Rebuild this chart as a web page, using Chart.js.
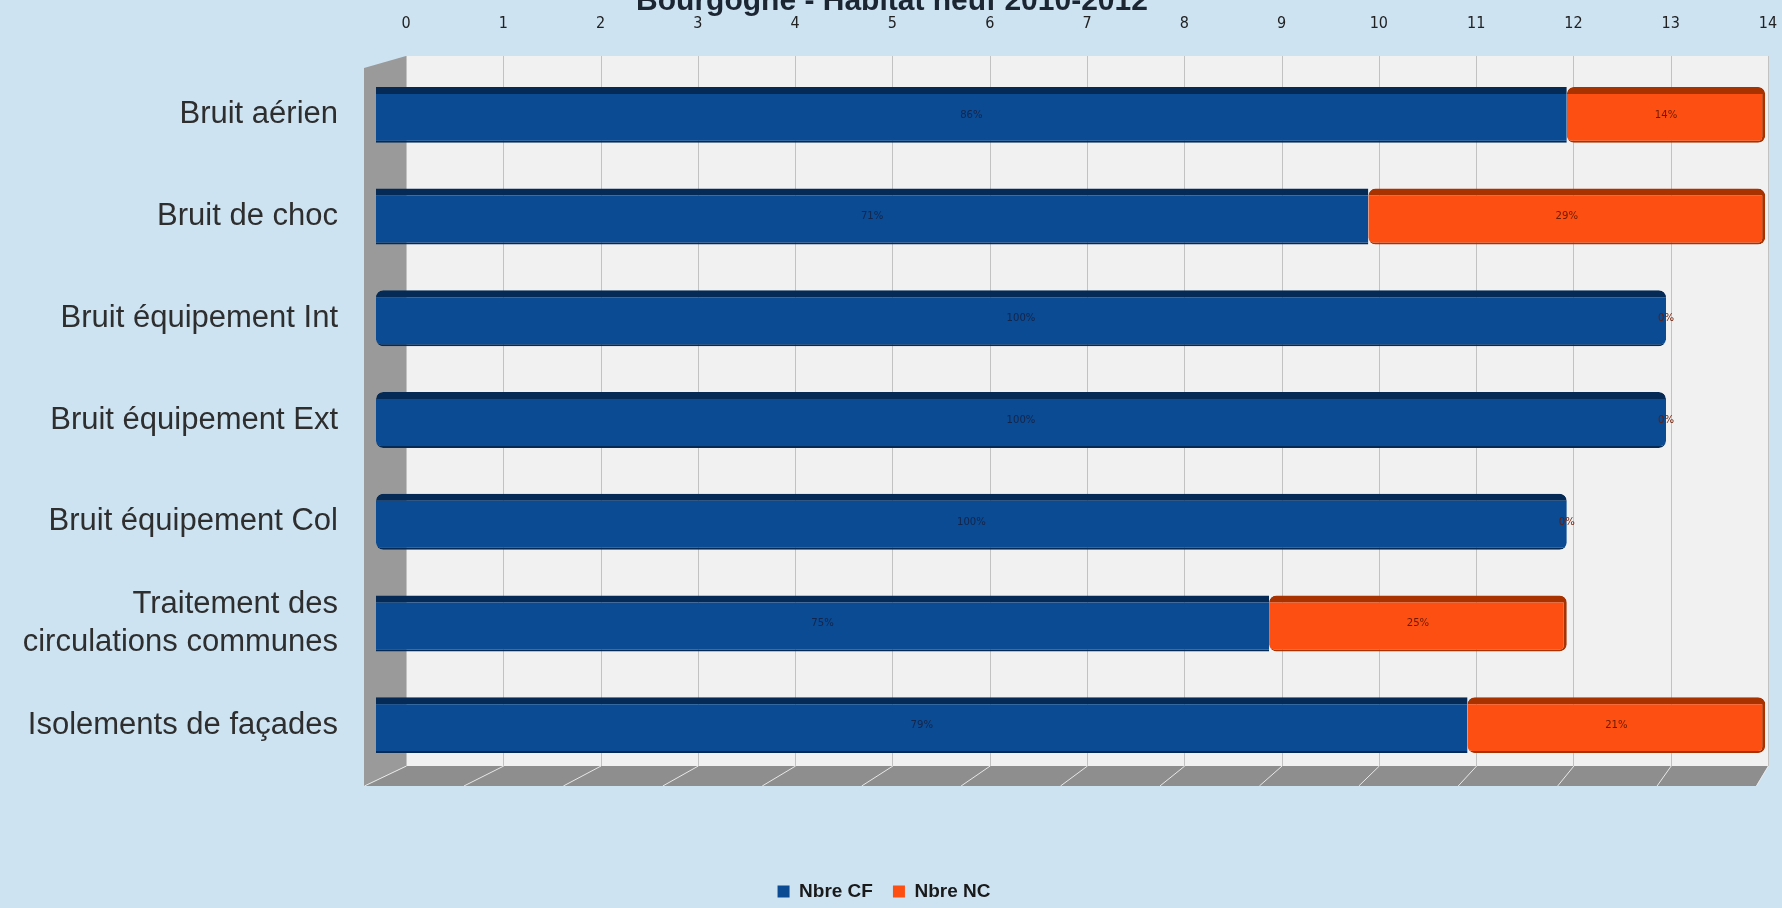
<!DOCTYPE html>
<html lang="fr">
<head>
<meta charset="UTF-8">
<title>Bourgogne - Habitat neuf 2010-2012</title>
<script src="https://cdn.jsdelivr.net/npm/chart.js"></script>
<style>
  html, body {
    margin: 0;
    padding: 0;
    height: 100%;
    overflow: hidden;
    background: #cde3f2;
  }
  #wrap {
    position: relative;
    width: 1782px;
    height: 908px;
  }
</style>
</head>
<body>
<div id="wrap"><canvas id="chart"></canvas></div>
<script>
  const title = 'Bourgogne - Habitat neuf 2010-2012'
  const categories = [
    'Bruit aérien',
    'Bruit de choc',
    'Bruit équipement Int',
    'Bruit équipement Ext',
    'Bruit équipement Col',
    ['Traitement des', 'circulations communes'],
    'Isolements de façades'
  ]
  const nbreCF = [12, 10, 13, 13, 12, 9, 11]
  const nbreNC = [2, 4, 0, 0, 0, 3, 3]
  const xTicks = [0, 1, 2, 3, 4, 5, 6, 7, 8, 9, 10, 11, 12, 13, 14]

  const narrow = "'Liberation Sans Narrow', 'DejaVu Sans Condensed', 'Liberation Sans', sans-serif"
  const arial = "'Liberation Sans', Arial, sans-serif"
  // front face of the 3d bars: starts left of the back wall and is a bit wider
  const frontLeft = 376, frontStretch = 1.02

  // back wall, grid, side wall and floor of the fake 3d box
  const scene = {
    id: 'scene',
    afterLayout(chart) {
      // legend sits lower than chart.js puts it
      const lg = chart.legend
      lg.top = 862
      lg.bottom = lg.top + lg.height
    },
    beforeDatasetsDraw(chart) {
      const { ctx, chartArea: a, scales: { x } } = chart
      const top = a.top - 8, back = a.bottom - 10, front = a.bottom + 10
      ctx.save()
      ctx.fillStyle = '#f1f1f2'
      ctx.fillRect(a.left, top, a.right - a.left, back - top)
      ctx.strokeStyle = '#c2c2c2'
      ctx.lineWidth = 1
      xTicks.forEach(v => {
        const px = Math.round(x.getPixelForValue(v)) + 0.5
        ctx.beginPath(); ctx.moveTo(px, top); ctx.lineTo(px, back); ctx.stroke()
      })
      // left wall
      ctx.fillStyle = '#9a9a9a'
      ctx.beginPath()
      ctx.moveTo(a.left, top)
      ctx.lineTo(a.left, back)
      ctx.lineTo(a.left - 42, front)
      ctx.lineTo(a.left - 42, top + 12)
      ctx.closePath(); ctx.fill()
      // floor
      ctx.fillStyle = '#8e8e8e'
      ctx.beginPath()
      ctx.moveTo(a.left, back)
      ctx.lineTo(a.right, back)
      ctx.lineTo(a.right - 12, front)
      ctx.lineTo(a.left - 42, front)
      ctx.closePath(); ctx.fill()
      ctx.strokeStyle = '#e8e8e8'
      xTicks.forEach(v => {
        const px = x.getPixelForValue(v)
        const t = (px - a.left) / (a.right - a.left)
        const d = 42 + (12 - 42) * t
        ctx.beginPath(); ctx.moveTo(px - d + 0.5, front); ctx.lineTo(px + 0.5, back); ctx.stroke()
      })
      ctx.restore()
      ctx.save()
      ctx.translate(frontLeft, 0)
      ctx.scale(frontStretch, 1)
      ctx.translate(-a.left, 0)
    },
    afterDatasetsDraw(chart) {
      const { ctx } = chart
      // percentage labels inside each segment
      ctx.font = "11px " + narrow
      ctx.textAlign = 'center'
      ctx.textBaseline = 'middle'
      chart.data.datasets.forEach((ds, di) => {
        chart.getDatasetMeta(di).data.forEach((el, i) => {
          const total = nbreCF[i] + nbreNC[i]
          const pct = Math.round(ds.data[i] / total * 100) + '%'
          ctx.fillStyle = di === 0 ? '#14254a' : '#6e1a00'
          ctx.fillText(pct, (el.x + el.base) / 2, el.y)
        })
      })
      ctx.restore()
    },
    afterDraw(chart) {
      const { ctx } = chart
      ctx.save()
      ctx.font = "bold 30px " + arial
      ctx.fillStyle = '#1c2633'
      ctx.textAlign = 'center'
      ctx.textBaseline = 'alphabetic'
      ctx.fillText(title, 892, 10, 517)
      ctx.restore()
    }
  }

  const data = {
    labels: categories,
    datasets: [
      {
        label: 'Nbre CF',
        data: nbreCF,
        backgroundColor: '#0a4b93',
        borderColor: '#042a55',
        borderWidth: { top: 7, bottom: 2, left: 0, right: 0 },
        borderRadius: 7,
        borderSkipped: false,
        barPercentage: 0.55,
        categoryPercentage: 1
      },
      {
        label: 'Nbre NC',
        data: nbreNC,
        backgroundColor: '#fd4f12',
        borderColor: '#a83300',
        borderWidth: { top: 7, bottom: 2, left: 0, right: 3 },
        borderRadius: 7,
        borderSkipped: false,
        barPercentage: 0.55,
        categoryPercentage: 1
      }
    ]
  }

  const chart = new Chart(document.getElementById('chart'), {
    type: 'bar',
    data: data,
    plugins: [scene],
    options: {
      indexAxis: 'y',
      responsive: true,
      maintainAspectRatio: false,
      animation: false,
      layout: { padding: { top: 0, right: 14, bottom: 0, left: 0 } },
      scales: {
        x: {
          type: 'linear',
          position: 'top',
          stacked: true,
          min: 0,
          max: 14,
          grid: { display: false },
          border: { display: false },
          afterBuildTicks: s => { s.ticks = xTicks.map(v => ({ value: v })) },
          afterFit: s => { s.height = 64; s.paddingLeft = 0; s.paddingRight = 0 },
          ticks: {
            padding: 23,
            color: '#222',
            font: { family: narrow, size: 16 }
          }
        },
        x2: {
          type: 'linear',
          position: 'bottom',
          grid: { display: false },
          border: { display: false },
          ticks: { display: false },
          afterFit: s => { s.height = 83; s.paddingLeft = 0; s.paddingRight = 0 }
        },
        y: {
          stacked: true,
          grid: { display: false },
          border: { display: false },
          afterFit: s => { s.width = 406; s.paddingTop = 0; s.paddingBottom = 0 },
          ticks: {
            padding: 60,
            color: '#2e2e2e',
            font: { family: arial, size: 31 }
          }
        }
      },
      plugins: {
        legend: {
          position: 'bottom',
          labels: {
            boxWidth: 12,
            boxHeight: 12,
            padding: 20,
            color: '#1a1a1a',
            font: { family: arial, size: 19, weight: 'bold' },
            generateLabels: c => Chart.defaults.plugins.legend.labels.generateLabels(c)
              .map(l => Object.assign(l, { lineWidth: 0 }))
          }
        },
        tooltip: { enabled: false }
      }
    }
  })
</script>
</body>
</html>
